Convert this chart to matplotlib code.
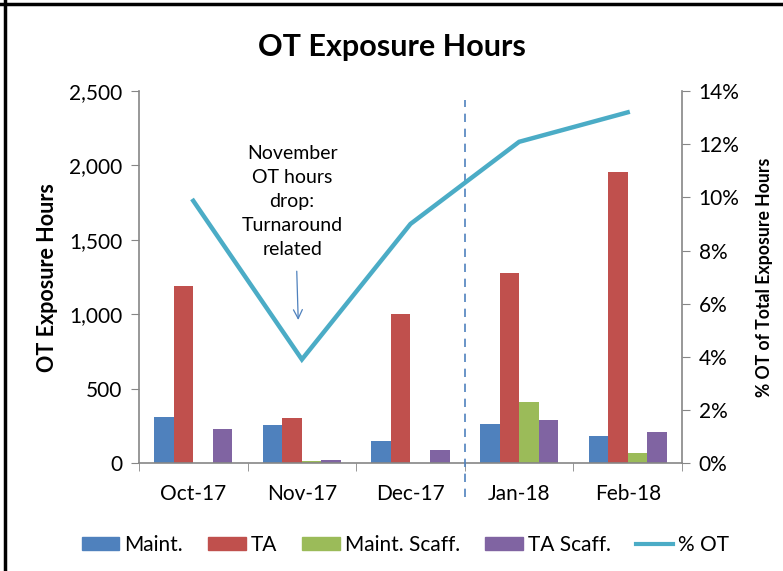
import numpy as np
import matplotlib.pyplot as plt
from matplotlib.lines import Line2D
from matplotlib.ticker import FuncFormatter, PercentFormatter

plt.rcParams['font.family'] = ['Lato', 'DejaVu Sans']

months = ['Oct-17', 'Nov-17', 'Dec-17', 'Jan-18', 'Feb-18']
maint = [310, 255, 150, 260, 185]
ta = [1190, 300, 1000, 1280, 1955]
maint_scaff = [0, 12, 0, 410, 70]
ta_scaff = [228, 20, 88, 288, 210]
pct_ot = [0.0987, 0.0390, 0.0900, 0.1209, 0.1320]

series = [maint, ta, maint_scaff, ta_scaff]
names = ['Maint.', 'TA', 'Maint. Scaff.', 'TA Scaff.']
colors = ['#4F81BD', '#C0504D', '#9BBB59', '#8064A2']
line_color = '#4BACC6'
spine_color = '#868686'

fig = plt.figure(figsize=(7.83, 5.71), dpi=100)
ax = fig.add_axes([0.1775, 0.189, 0.6935, 0.6515])
x = np.arange(len(months))
w = 0.18
for i, (vals, c) in enumerate(zip(series, colors)):
    ax.bar(x + (i - 1.5) * w, vals, w, color=c, label=names[i], zorder=2)

ax.set_xlim(-0.5, 4.5)
ax.set_ylim(0, 2500)
ax.set_yticks(range(0, 2501, 500))
ax.yaxis.set_major_formatter(FuncFormatter(lambda v, p: f'{int(v):,}'))
ax.set_xticks(x)
ax.set_xticklabels(months)
ax.set_xticks(np.arange(-0.5, 5, 1), minor=True)
ax.tick_params(axis='x', which='major', length=0, labelsize=15, pad=15)
ax.tick_params(axis='x', which='minor', length=6, color=spine_color, direction='out')
ax.tick_params(axis='y', length=6, color=spine_color, labelsize=15, pad=6)
ax.set_ylabel('OT Exposure Hours', fontsize=15.5, fontweight='bold', labelpad=8)
for s in ['top', 'right']:
    ax.spines[s].set_visible(False)
for s in ['left', 'bottom']:
    ax.spines[s].set_color(spine_color)
    ax.spines[s].set_linewidth(1.2)

ax2 = ax.twinx()
ax2.plot(x, pct_ot, color=line_color, lw=3.2, label='% OT', solid_joinstyle='miter', zorder=3)
ax2.set_ylim(0, 0.14)
ax2.set_yticks(np.arange(0, 0.141, 0.02))
ax2.yaxis.set_major_formatter(PercentFormatter(1.0, decimals=0))
ax2.tick_params(axis='y', length=6, color=spine_color, labelsize=15, pad=6)
ax2.set_ylabel('% OT of Total Exposure Hours', fontsize=12.7, fontweight='bold', labelpad=12)
for s in ['top', 'left', 'bottom']:
    ax2.spines[s].set_visible(False)
ax2.spines['right'].set_color(spine_color)
ax2.spines['right'].set_linewidth(1.2)

# dashed divider between Dec and Jan
ax.plot([2.5, 2.5], [-230, 2440], ls=(0, (5, 4)), color='#4F81BD', lw=1.2, clip_on=False, zorder=4)

# annotation
ax.text(0.91, 1760, 'November\nOT hours\ndrop:\nTurnaround\nrelated', ha='center', va='center',
        fontsize=14, linespacing=1.5)
ax.annotate('', xy=(0.967, 943), xytext=(0.952, 1308),
            arrowprops=dict(arrowstyle='->', color='#4F81BD', lw=0.9, mutation_scale=16))

fig.suptitle('OT Exposure Hours', fontsize=22, fontweight='bold', y=0.943)

handles = [plt.Rectangle((0, 0), 1, 1, color=c) for c in colors]
handles.append(Line2D([0], [0], color=line_color, lw=3))
fig.legend(handles, names + ['% OT'], loc='center', bbox_to_anchor=(0.518, 0.046), ncol=5,
           frameon=False, fontsize=15, handlelength=1.8, handleheight=0.6, handletextpad=0.25,
           columnspacing=1.2)

# frame on top and left edges
fig.add_artist(Line2D([0, 1], [0.993, 0.993], transform=fig.transFigure, color='black', lw=2.5))
fig.add_artist(Line2D([0.006, 0.006], [0, 1], transform=fig.transFigure, color='black', lw=2.5))

fig.savefig('out.png', dpi=100)
